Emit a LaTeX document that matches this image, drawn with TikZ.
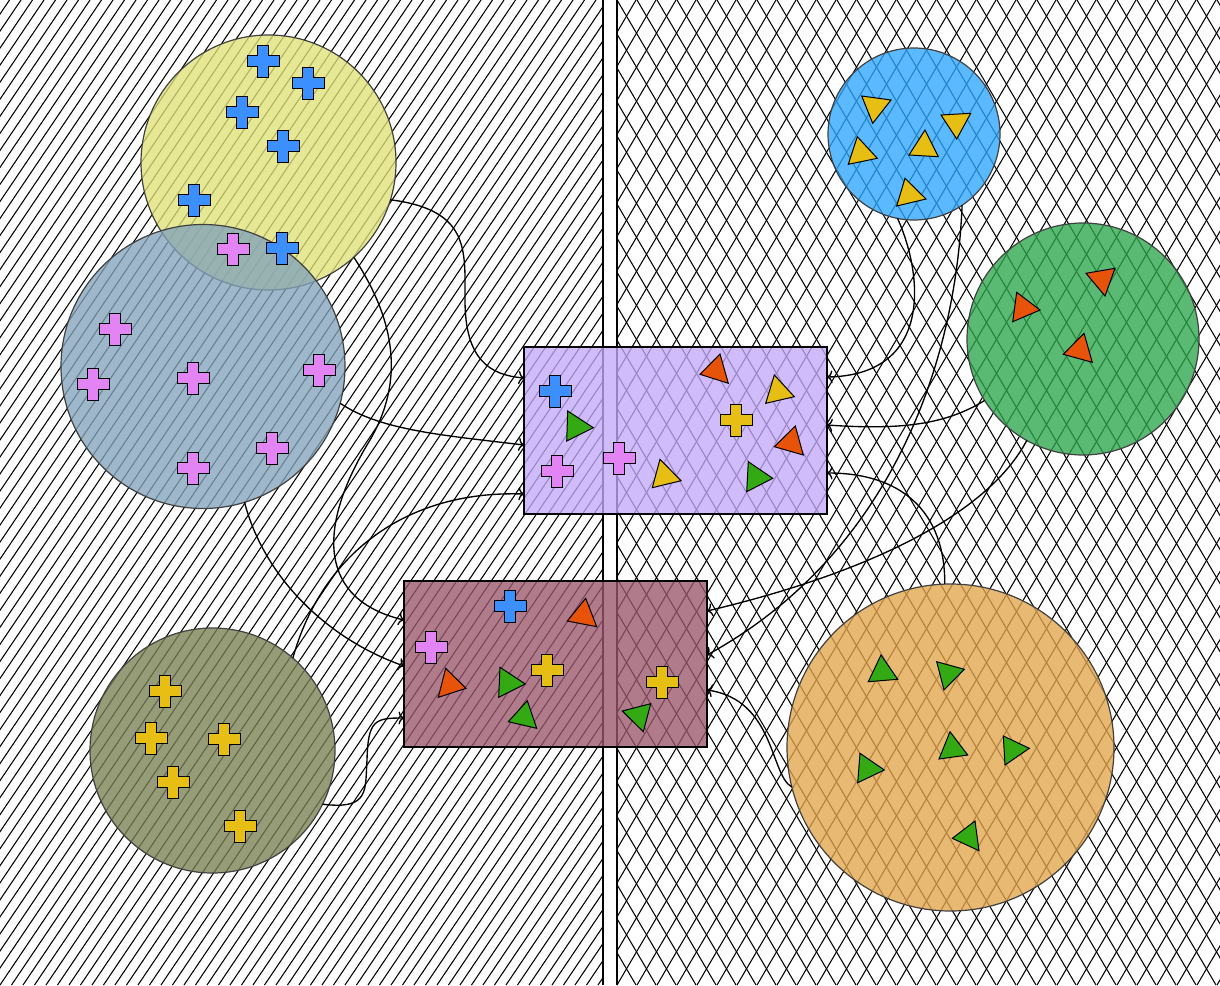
\documentclass[tikz,border=0pt]{standalone}
\usetikzlibrary{arrows.meta,calc}
\definecolor{cyel}{RGB}{223,226,120}
\definecolor{cbgr}{RGB}{131,163,187}
\definecolor{coli}{RGB}{120,128,82}
\definecolor{clbl}{RGB}{44,165,255}
\definecolor{cgrn}{RGB}{44,165,76}
\definecolor{corg}{RGB}{226,165,76}
\definecolor{cpur}{RGB}{195,169,249}
\definecolor{cmau}{RGB}{154,87,108}
\definecolor{mblue}{RGB}{59,143,255}
\definecolor{mpink}{RGB}{227,132,245}
\definecolor{myel}{RGB}{230,190,20}
\definecolor{morg}{RGB}{232,83,10}
\definecolor{mgrn}{RGB}{51,170,20}
\tikzset{
  blob/.style={circle, inner sep=0pt, outer sep=0pt, fill opacity=0.78, draw=black!75, line width=1.2pt},
  box/.style={rectangle, inner sep=0pt, outer sep=0pt, fill opacity=0.78, draw=black, line width=1.4pt},
  link/.style={line width=1.35pt, -{To[length=5.5pt,width=13pt]}},
  hatch/.style={line width=1.05pt},
  mk/.style={draw=black, line width=1pt, line join=miter},
}
\newcommand{\plusmk}[3]{\filldraw[mk, fill=#3, shift={(#1,#2)}] (-16,-5.5) -- (-5.5,-5.5) -- (-5.5,-16) -- (5.5,-16) -- (5.5,-5.5) -- (16,-5.5) -- (16,5.5) -- (5.5,5.5) -- (5.5,16) -- (-5.5,16) -- (-5.5,5.5) -- (-16,5.5) -- cycle;}
\newcommand{\trimk}[4]{\filldraw[mk, fill=#4] #1 -- #2 -- #3 -- cycle;}
\begin{document}
\begin{tikzpicture}[x=1pt,y=-1pt]
\useasboundingbox (0,0) rectangle (1220,985);
% background hatch
\begin{scope}
  \clip (0,0) rectangle (603,985);
  \foreach \i in {-60,...,52} { \draw[hatch] (\i*11.5,985) -- (\i*11.5+665,0); }
\end{scope}
\begin{scope}
  \clip (617,0) rectangle (1220,985);
  \foreach \i in {-30,...,31} {
    \draw[hatch] (617+\i*20,985) -- (617+\i*20+579,0);
    \draw[hatch] (617+\i*20,0) -- (617+\i*20+579,985);
  }
\end{scope}
\draw[hatch] (603,0) -- (603,985);
\draw[hatch] (617,0) -- (617,985);
% shapes
\node[blob, fill=cyel, minimum size=255pt] (yc) at (268.5,162.5) {};
\node[blob, fill=cbgr, minimum size=284pt] (bc) at (203,366.5) {};
\node[blob, fill=coli, minimum size=245pt] (oc) at (212.5,750.5) {};
\node[blob, fill=clbl, minimum size=172pt] (lc) at (914,134) {};
\node[blob, fill=cgrn, minimum size=232pt] (gc) at (1083,339) {};
\node[blob, fill=corg, minimum size=327pt] (rc) at (950.5,747.5) {};
\node[box, fill=cpur, minimum width=303pt, minimum height=167pt] (pr) at (675.5,430.5) {};
\node[box, fill=cmau, minimum width=303pt, minimum height=166pt] (mr) at (555.5,664) {};
% connectors
\draw[link] (yc.-17.6) .. controls (470,210) and (465,250) .. (465,300) .. controls (465,360) and (490,375) .. ($(pr.west)+(0,-52.5)$);
\draw[link] (yc.-48.2) .. controls (395,320) and (405,380) .. (370,440) .. controls (315,530) and (320,600) .. ($(mr.west)+(0,-44)$);
\draw[link] (bc.-15.2) .. controls (380,430) and (440,435) .. ($(pr.west)+(0,14.5)$);
\draw[link] (bc.-73.8) .. controls (265,580) and (330,640) .. ($(mr.west)+(0,2)$);
\draw[link] (oc.49.6) .. controls (320,560) and (400,490) .. ($(pr.west)+(0,63.5)$);
\draw[link] (oc.-26.3) .. controls (370,810) and (365,790) .. (367,760) .. controls (368,720) and (375,718) .. ($(mr.west)+(0,54)$);
\draw[link] (lc.-101.6) .. controls (925,280) and (930,375) .. ($(pr.east)+(0,-53.5)$);
\draw[link] (lc.-56.5) .. controls (955,380) and (880,560) .. ($(mr.east)+(0,-9)$);
\draw[link] (gc.-148.6) .. controls (945,425) and (900,430) .. ($(pr.east)+(0,-5.5)$);
\draw[link] (gc.-119.9) .. controls (990,510) and (880,570) .. ($(mr.east)+(0,-53)$);
\draw[link] (rc.92) .. controls (945,510) and (900,473) .. ($(pr.east)+(0,42.5)$);
\draw[link] (rc.-166.3) .. controls (770,775) and (775,700) .. ($(mr.east)+(0,26)$);
% markers: yellow circle
\plusmk{263}{61}{mblue}
\plusmk{308}{83}{mblue}
\plusmk{242}{112}{mblue}
\plusmk{283}{146}{mblue}
\plusmk{194}{200}{mblue}
\plusmk{233}{249}{mpink}
\plusmk{282}{248}{mblue}
% blue-grey circle
\plusmk{115}{329}{mpink}
\plusmk{93}{384}{mpink}
\plusmk{193}{378}{mpink}
\plusmk{319}{370}{mpink}
\plusmk{272}{448}{mpink}
\plusmk{193}{468}{mpink}
% olive circle
\plusmk{165}{691}{myel}
\plusmk{151}{738}{myel}
\plusmk{224}{739}{myel}
\plusmk{173}{782}{myel}
\plusmk{240}{826}{myel}
% purple rect
\plusmk{555}{391}{mblue}
\trimk{(567.7,411)}{(593.3,427.7)}{(566.7,441)}{mgrn}
\plusmk{557}{471}{mpink}
\plusmk{619}{458}{mpink}
\trimk{(660,459.3)}{(681,480.7)}{(652.3,487.7)}{myel}
\trimk{(720,354)}{(728.3,383.3)}{(700,374.3)}{morg}
\trimk{(774.3,375)}{(794.3,396.7)}{(765.7,403.3)}{myel}
\plusmk{736}{420}{myel}
\trimk{(795.3,426)}{(803.3,455)}{(774.3,446.7)}{morg}
\trimk{(748.3,461.7)}{(772.7,478.3)}{(746.7,491.7)}{mgrn}
% mauve rect
\plusmk{510}{606}{mblue}
\trimk{(585.7,598.3)}{(596.7,626.7)}{(567.3,621)}{morg}
\plusmk{431}{647}{mpink}
\trimk{(445.7,668.3)}{(466,688.3)}{(438.3,697.3)}{morg}
\trimk{(500,667.3)}{(525.3,684)}{(498.7,697.3)}{mgrn}
\plusmk{547}{670}{myel}
\trimk{(527.3,700.7)}{(536.7,728.3)}{(508.3,721.7)}{mgrn}
\plusmk{662}{682}{myel}
\trimk{(650.7,703.7)}{(643.3,731.7)}{(622.3,711)}{mgrn}
% light blue circle
\trimk{(861.7,96)}{(891,100)}{(872.7,123.3)}{myel}
\trimk{(941,115)}{(970.7,113.3)}{(956.7,139)}{myel}
\trimk{(857.3,136.7)}{(877.3,158.3)}{(848.3,164.3)}{myel}
\trimk{(925,130)}{(938.3,156.7)}{(909,155)}{myel}
\trimk{(905,178.3)}{(926,199)}{(896.7,206)}{myel}
% green circle
\trimk{(1016.7,292.3)}{(1040,310)}{(1012.7,321.7)}{morg}
\trimk{(1086,273.3)}{(1115,268.3)}{(1105,296)}{morg}
\trimk{(1084,333.3)}{(1092.3,362.3)}{(1063.3,354.3)}{morg}
% orange circle
\trimk{(881,655)}{(897.7,679.3)}{(868.3,681.7)}{mgrn}
\trimk{(936.7,661.7)}{(964.3,669.3)}{(944,690)}{mgrn}
\trimk{(950,731.7)}{(967.7,755)}{(939,759)}{mgrn}
\trimk{(1003.3,736)}{(1029.3,748.3)}{(1005,765)}{mgrn}
\trimk{(860,753.3)}{(884.3,770)}{(857.7,782.7)}{mgrn}
\trimk{(975,821)}{(979,850.7)}{(952.3,838.3)}{mgrn}
\end{tikzpicture}
\end{document}
